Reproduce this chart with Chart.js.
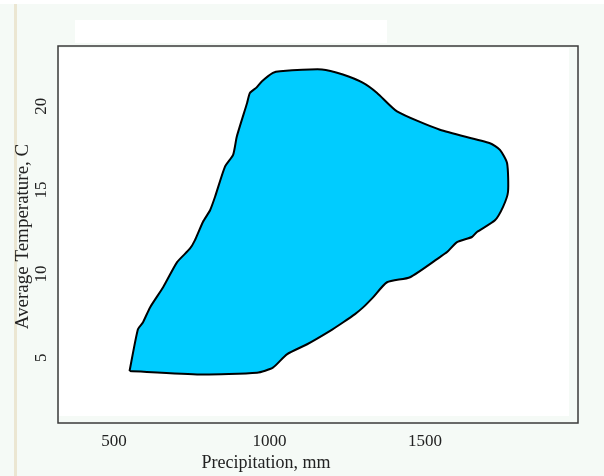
<!DOCTYPE html>
<html>
<head>
<meta charset="utf-8">
<script src="https://cdn.jsdelivr.net/npm/chart.js@4/dist/chart.umd.min.js"></script>
<style>
  html, body { margin: 0; padding: 0; background: #f5faf6; }
  #wrap { width: 604px; height: 476px; position: relative; }
</style>
</head>
<body>
<div id="wrap"><canvas id="myChart" width="604" height="476"></canvas></div>
<script>
// climate envelope outline, traced clockwise from the bottom-left corner
var precip = [550, 577, 593, 616, 658, 703, 744, 760, 786, 809, 825, 857, 883, 895, 928, 937, 957, 976, 1011, 1034,
              1169, 1236, 1301, 1346, 1410, 1548, 1709, 1741, 1764, 1767, 1751, 1725, 1667, 1651, 1603, 1571, 1548,
              1452, 1378, 1333, 1301, 1275, 1236, 1195, 1121, 1056, 1011, 960, 777, 550]
var temp = [4.2, 6.7, 7.1, 8.0, 9.2, 10.7, 11.5, 12.0, 13.1, 13.8, 14.6, 16.4, 17.1, 18.2, 20.2, 20.8, 21.1, 21.5, 22.0, 22.1,
            22.2, 21.9, 21.4, 20.8, 19.7, 18.6, 17.8, 17.4, 16.6, 14.9, 14.0, 13.2, 12.5, 12.2, 11.9, 11.3, 11.0,
            9.8, 9.5, 8.6, 8.0, 7.6, 7.1, 6.6, 5.8, 5.2, 4.4, 4.1, 4.0, 4.2]
var xTicks = [500, 1000, 1500]
var yTicks = [5, 10, 15, 20]
var xTitle = 'Precipitation, mm'
var yTitle = 'Average Temperature, C'

var points = []
for (var i = 0; i < precip.length; i++) {
    points.push({x: precip[i], y: temp[i]})
}

var serif = "'Liberation Serif', 'DejaVu Serif', serif"

// page decorations, framed plot area and axis titles
var backdrop = {
    id: 'backdrop',
    beforeDraw: function(chart) {
        var ctx = chart.ctx, a = chart.chartArea
        ctx.save()
        ctx.fillStyle = '#f5faf6'
        ctx.fillRect(0, 0, chart.width, chart.height)
        ctx.fillStyle = '#ffffff'
        ctx.fillRect(0, 0, chart.width, 4)
        ctx.fillRect(75, 20, 312, 23)
        ctx.fillStyle = '#ebe6d2'
        ctx.fillRect(14, 4, 3, chart.height - 4)
        ctx.fillStyle = '#ffffff'
        ctx.fillRect(a.left + 1, a.top + 2, a.right - a.left - 10, a.bottom - a.top - 9)
        ctx.restore()
    },
    afterDraw: function(chart) {
        var ctx = chart.ctx, a = chart.chartArea
        ctx.save()
        ctx.strokeStyle = '#3a3a3a'
        ctx.lineWidth = 1.5
        ctx.strokeRect(a.left, a.top, a.right - a.left, a.bottom - a.top)

        ctx.fillStyle = '#222'
        ctx.font = '18px ' + serif
        ctx.textAlign = 'center'
        ctx.textBaseline = 'alphabetic'
        ctx.fillText(xTitle, 266, 468)

        ctx.font = '19px ' + serif
        ctx.translate(23, (a.top + a.bottom) / 2 + 2)
        ctx.rotate(-Math.PI / 2)
        ctx.textBaseline = 'middle'
        ctx.fillText(yTitle, 0, 0)
        ctx.restore()
    }
}

var chart = new Chart(document.getElementById('myChart').getContext('2d'), {
    type: 'scatter',
    data: {
        datasets: [{
            data: points,
            showLine: true,
            fill: 'shape',
            backgroundColor: '#00ccff',
            borderColor: '#000000',
            borderWidth: 2,
            tension: 0.2,
            pointRadius: 0
        }]
    },
    options: {
        responsive: false,
        animation: false,
        layout: { padding: { top: 46, right: 26, left: 0, bottom: 0 } },
        plugins: { legend: { display: false }, tooltip: { enabled: false } },
        scales: {
            x: {
                type: 'linear',
                min: 320, max: 1992,
                afterBuildTicks: function(s) { s.ticks = xTicks.map(function(v){ return {value: v} }) },
                afterFit: function(s) { s.height = 53 },
                grid: { display: false, drawTicks: true, tickLength: 5, tickColor: '#333' },
                border: { display: false },
                ticks: { color: '#222', font: { family: serif, size: 17 }, padding: 3, maxRotation: 0,
                         callback: function(v) { return String(v) } }
            },
            y: {
                type: 'linear',
                min: 1.1, max: 23.6,
                afterBuildTicks: function(s) { s.ticks = yTicks.map(function(v){ return {value: v} }) },
                afterFit: function(s) { s.width = 58 },
                grid: { display: false, drawTicks: true, tickLength: 5, tickColor: '#333' },
                border: { display: false },
                ticks: { color: '#222', font: { family: serif, size: 17 }, padding: 3, minRotation: 90, maxRotation: 90,
                         crossAlign: 'center', callback: function(v) { return String(v) } }
            }
        }
    },
    plugins: [backdrop]
})
</script>
</body>
</html>
